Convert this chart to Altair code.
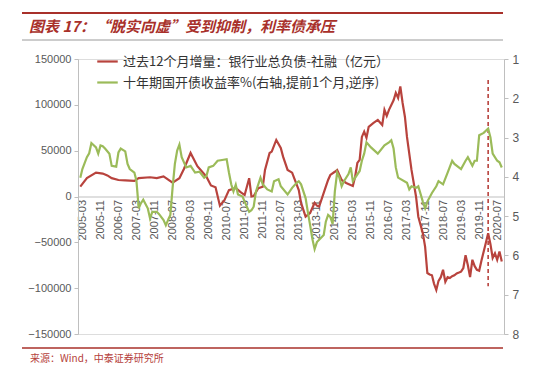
import altair as alt
import pandas as pd

# ---------------- data ----------------
series_names = ["过去12个月增量：银行业总负债-社融（亿元）", "十年期国开债收益率%(右轴,提前1个月,逆序)"]

red_dates = ["2005-02", "2005-05", "2005-09", "2005-12", "2006-02", "2006-04", "2006-07", "2006-10",
             "2007-02", "2007-04", "2007-09", "2007-12", "2008-03", "2008-07", "2008-10", "2008-12",
             "2009-03", "2009-06", "2009-10", "2009-12", "2010-02", "2010-04", "2010-06", "2010-08",
             "2010-11", "2011-01", "2011-03", "2011-05", "2011-06", "2011-07", "2011-09", "2011-11",
             "2011-12", "2012-02", "2012-03", "2012-05", "2012-07", "2012-08", "2012-10", "2012-12",
             "2013-03", "2013-04", "2013-06", "2013-08", "2013-10", "2013-11", "2013-12", "2014-03",
             "2014-04", "2014-05", "2014-07", "2014-08", "2014-10", "2014-12", "2015-03", "2015-04",
             "2015-05", "2015-06", "2015-07", "2015-08", "2015-09", "2015-10", "2015-12", "2016-02",
             "2016-04", "2016-05", "2016-06", "2016-07", "2016-09", "2016-10", "2016-11", "2016-12",
             "2017-01", "2017-02", "2017-03", "2017-05", "2017-07", "2017-08", "2017-10", "2017-11",
             "2017-12", "2018-01", "2018-02", "2018-03", "2018-04", "2018-05", "2018-06", "2018-07",
             "2018-08", "2018-09", "2018-10", "2018-11", "2018-12", "2019-01", "2019-02", "2019-03",
             "2019-04", "2019-05", "2019-06", "2019-07", "2019-08", "2019-09", "2019-10", "2019-11",
             "2019-12", "2020-01", "2020-02", "2020-03", "2020-04", "2020-05", "2020-06", "2020-07",
             "2020-08", "2020-09"]
red_values = [10700, 20000, 26000, 25000, 23000, 20000, 18000, 17500,
              17000, 20000, 21000, 20000, 22000, 15000, 20000, 30000,
              47500, 33000, 21600, 12000, 10000, -10000, -4000, 7000,
              9300, 5000, 1600, 20000, 0, 500, 9000, 10700,
              29000, 47500, 49000, 61700, 53000, 43500, 29000, 26000,
              7100, -7000, -22000, -18000, -7000, -10000, -11000, 10700,
              18000, 23500, 27000, 29000, 18000, 14700, 11500, 21600,
              36600, 40000, 65000, 70800, 64000, 76000, 80000, 83500,
              78000, 94500, 88000, 94500, 105000, 113000, 107500, 120000,
              102000, 87000, 65000, 29000, 0, -22000, -40000, -55000,
              -83500, -85000, -86000, -95000, -102000, -92000, -88000, -80000,
              -93000, -88000, -89000, -87000, -86000, -84000, -83000, -82000,
              -78000, -64000, -75000, -88000, -69000, -76000, -80000, -81000,
              -70000, -60000, -50000, -40000, -52000, -67000, -62000, -69000,
              -60000, -71000]

green_dates = ["2005-02", "2005-03", "2005-05", "2005-06", "2005-07", "2005-09", "2005-10", "2005-11",
               "2005-12", "2006-01", "2006-03", "2006-04", "2006-06", "2006-07", "2006-08", "2006-10",
               "2006-11", "2006-12", "2007-02", "2007-03", "2007-04", "2007-05", "2007-06", "2007-08",
               "2007-09", "2007-10", "2007-12", "2008-01", "2008-03", "2008-04", "2008-05", "2008-06",
               "2008-07", "2008-08", "2008-09", "2008-10", "2008-11", "2009-01", "2009-03", "2009-05",
               "2009-07", "2009-09", "2009-10", "2009-11", "2010-01", "2010-03", "2010-05", "2010-07",
               "2010-08", "2010-09", "2010-10", "2010-11", "2010-12", "2011-02", "2011-03", "2011-05",
               "2011-06", "2011-07", "2011-08", "2011-10", "2011-11", "2012-01", "2012-03", "2012-04",
               "2012-06", "2012-07", "2012-10", "2012-12", "2013-02", "2013-03", "2013-04", "2013-06",
               "2013-07", "2013-08", "2013-09", "2013-10", "2013-11", "2014-02", "2014-03", "2014-04",
               "2014-05", "2014-06", "2014-07", "2014-08", "2014-09", "2014-10", "2014-11", "2015-01",
               "2015-02", "2015-03", "2015-06", "2015-07", "2015-08", "2015-09", "2015-11", "2016-02",
               "2016-05", "2016-07", "2016-08", "2016-09", "2016-10", "2016-11", "2017-03", "2017-04",
               "2017-05", "2017-07", "2017-08", "2017-10", "2017-11", "2017-12", "2018-02", "2018-04",
               "2018-05", "2018-07", "2018-09", "2018-11", "2018-12", "2019-03", "2019-05", "2019-06",
               "2019-08", "2019-09", "2019-10", "2019-11", "2020-01", "2020-03", "2020-04", "2020-05",
               "2020-07", "2020-08", "2020-09"]
green_values = [4.02, 3.8, 3.5, 3.4, 3.14, 3.25, 3.41, 3.2,
                3.22, 3.28, 3.41, 3.72, 3.74, 3.38, 3.28, 3.35,
                3.67, 3.8, 3.89, 4.1, 4.8, 4.67, 4.58, 4.8,
                5.06, 4.89, 4.89, 4.95, 5.1, 5.23, 5.1, 4.97,
                4.28, 3.67, 3.33, 3.18, 3.5, 3.76, 3.72, 3.89,
                3.87, 4.02, 3.98, 3.76, 3.72, 3.59, 3.57, 3.55,
                3.89, 4.19, 4.37, 4.2, 4.45, 4.5, 4.63, 4.89,
                4.85, 4.76, 4.37, 4.02, 4.19, 4.32, 4.37, 4.11,
                4.06, 4.24, 4.45, 4.28, 4.15, 4.11, 4.19, 4.54,
                4.89, 5.23, 5.58, 5.84, 5.66, 5.48, 5.14, 4.97,
                5.02, 5.2, 4.37, 3.89, 4.02, 4.24, 4.11, 3.93,
                3.76, 4.11, 3.85, 3.59, 3.41, 3.12, 3.25, 3.41,
                3.2, 3.12, 3.07, 3.28, 3.76, 4.02, 4.15, 4.32,
                4.24, 4.28, 4.24, 4.63, 4.8, 4.63, 4.41, 4.24,
                4.11, 4.19, 3.89, 3.59, 3.67, 3.8, 3.59, 3.5,
                3.72, 3.59, 3.59, 2.94, 2.88, 2.77, 3.0, 3.41,
                3.59, 3.63, 3.76]

tick_labels = ["2005-03", "2005-11", "2006-07", "2007-03", "2007-11", "2008-07", "2009-03", "2009-11",
               "2010-07", "2011-03", "2011-11", "2012-07", "2013-03", "2013-11", "2014-07", "2015-03",
               "2015-11", "2016-07", "2017-03", "2017-11", "2018-07", "2019-03", "2019-11", "2020-07"]
left_ticks = [-150000, -100000, -50000, 0, 50000, 100000, 150000]
right_ticks = [1, 2, 3, 4, 5, 6, 7, 8]

marker_dates = ["2020-03"]
marker_top = [127000]
marker_bottom = [-98000]

title_text = "图表 17：“脱实向虚”受到抑制，利率债承压"
source_text = "来源：Wind，中泰证券研究所"

# ---------------- tables ----------------
red_df = pd.DataFrame({"date": pd.to_datetime(red_dates), "value": red_values, "series": series_names[0]})
green_df = pd.DataFrame({"date": pd.to_datetime(green_dates), "value": green_values, "series": series_names[1]})
marker_df = pd.DataFrame({"date": pd.to_datetime(marker_dates), "top": marker_top, "bottom": marker_bottom})
dummy = pd.DataFrame({"a": [0]})

RED = "#b8433d"
GREEN = "#9bbb59"
DARKRED = "#a8302a"
AXIS_GRAY = "#bfbfbf"
LABEL_GRAY = "#595959"
CJK = "Noto Sans CJK SC"

def dt(s):
    y, m = s.split("-")
    return alt.DateTime(year=int(y), month=int(m), date=1)

x_enc = alt.X(
    "date:T",
    scale=alt.Scale(domain=[dt("2005-01"), dt("2020-10")]),
    axis=alt.Axis(values=[dt(t) for t in tick_labels], format="%Y-%m", labelAngle=270,
                  offset=-137.5, title=None, grid=False, ticks=False, domainColor=AXIS_GRAY,
                  labelColor=LABEL_GRAY, labelFontSize=11, labelPadding=3, labelFont="Liberation Sans",
                  labelOverlap=False),
)

color_enc = alt.Color(
    "series:N",
    scale=alt.Scale(domain=series_names, range=[RED, GREEN]),
    legend=alt.Legend(orient="none", legendX=18, legendY=-9, title=None, symbolType="stroke",
                      symbolStrokeWidth=2.2, symbolSize=420, labelFontSize=13, labelFont=CJK,
                      labelColor="#333333", labelLimit=600, rowPadding=2, symbolOffset=0),
)

left_axis = alt.Axis(values=left_ticks, format="d", title=None, grid=False, tickSize=4,
                     tickColor=AXIS_GRAY, domainColor=AXIS_GRAY, labelColor=LABEL_GRAY,
                     labelFontSize=11, labelPadding=3, labelFont="Liberation Sans")
right_axis = alt.Axis(values=right_ticks, orient="right", title=None, grid=False, tickSize=4,
                      tickColor=AXIS_GRAY, domainColor=AXIS_GRAY, labelColor=LABEL_GRAY,
                      labelFontSize=12, labelPadding=4, labelFont="Liberation Sans")

left_scale = alt.Scale(domain=[-150000, 150000], nice=False)

red_line = alt.Chart(red_df).mark_line(strokeWidth=2.2).encode(
    x=x_enc, y=alt.Y("value:Q", scale=left_scale, axis=left_axis), color=color_enc)

marker = alt.Chart(marker_df).mark_rule(color=RED, strokeDash=[4, 3], strokeWidth=1.6).encode(
    x=x_enc, y=alt.Y("top:Q", scale=left_scale, axis=left_axis), y2="bottom:Q")

top_rule = alt.Chart(dummy).mark_rule(color=DARKRED, strokeWidth=2).encode(
    x=alt.value(-56), x2=alt.value(425), y=alt.value(-46))
mid_rule = alt.Chart(dummy).mark_rule(color="#9a9a9a", strokeWidth=1).encode(
    x=alt.value(-56), x2=alt.value(425), y=alt.value(-19))
bottom_rule = alt.Chart(dummy).mark_rule(color=DARKRED, strokeWidth=1.5).encode(
    x=alt.value(-56), x2=alt.value(425), y=alt.value(289))
title_mark = alt.Chart(dummy).mark_text(
    text=title_text, align="left", baseline="middle", fontSize=15, fontWeight="bold",
    fontStyle="italic", font=CJK, color=DARKRED).encode(x=alt.value(-49), y=alt.value(-32))
source_mark = alt.Chart(dummy).mark_text(
    text=source_text, align="left", baseline="middle", fontSize=10, font=CJK,
    color="#b5413c").encode(x=alt.value(-48), y=alt.value(300))

left_layer = alt.layer(red_line, marker, top_rule, mid_rule, bottom_rule, title_mark, source_mark)

green_line = alt.Chart(green_df).mark_line(strokeWidth=2.2).encode(
    x=x_enc,
    y=alt.Y("value:Q", scale=alt.Scale(domain=[1, 8], reverse=True, nice=False, zero=False), axis=right_axis),
    color=color_enc)

chart = alt.layer(left_layer, green_line).resolve_scale(y="independent").properties(
    width=426, height=275,
    padding={"left": 70, "top": 51, "right": 38, "bottom": 33},
    autosize=alt.AutoSizeParams(type="none"),
).configure_view(stroke=None).configure(background="white")

chart.save("out.html", embed_options={"renderer": "svg", "actions": False})
